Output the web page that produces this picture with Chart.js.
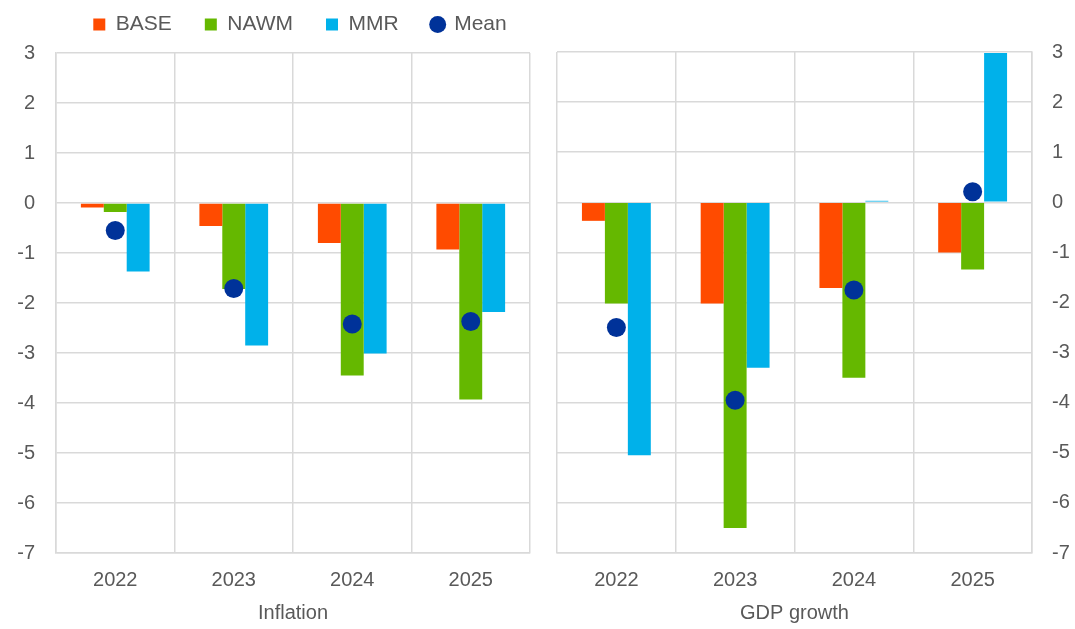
<!DOCTYPE html>
<html>
<head>
<meta charset="utf-8">
<script src="https://cdn.jsdelivr.net/npm/chart.js@4/dist/chart.umd.min.js"></script>
<style>
  html, body { margin: 0; padding: 0; background: #fff; overflow: hidden; }
  #left { position: absolute; left: 0; top: -19px; width: 600px; height: 648px; }
  #right { position: absolute; left: 540px; top: 0; width: 535px; height: 629px; }
</style>
</head>
<body>
<div id="left"><canvas id="cLeft"></canvas></div>
<div id="right"><canvas id="cRight"></canvas></div>
<script>
// ---- data ----
const years = ['2022', '2023', '2024', '2025'];
const seriesNames = ['BASE', 'NAWM', 'MMR', 'Mean'];

const inflBase = [-0.09, -0.46, -0.80, -0.93];
const inflNawm = [-0.18, -1.72, -3.45, -3.93];
const inflMmr  = [-1.37, -2.85, -3.01, -2.18];
const inflMean = [-0.55, -1.71, -2.42, -2.37];

const gdpBase = [-0.37, -2.02, -1.71, -1.00];
const gdpNawm = [-2.02, -6.50, -3.50, -1.34];
const gdpMmr  = [-5.05, -3.30, 0.03, 2.98];
const gdpMean = [-2.50, -3.95, -1.75, 0.21];

const yTicks = [3, 2, 1, 0, -1, -2, -3, -4, -5, -6, -7];

const COLORS = ['#ff4b00', '#65b800', '#00b1ea', '#003299'];
const FONT = "'Liberation Sans', Arial, sans-serif";
const TEXT = '#595959';
const GRID = '#d9d9d9';

Chart.defaults.font.family = FONT;
Chart.defaults.color = TEXT;
Chart.defaults.animation = false;

function makeDatasets(base, nawm, mmr, mean) {
  const sets = [base, nawm, mmr].map((d, i) => ({
    type: 'bar',
    label: seriesNames[i],
    data: d,
    backgroundColor: COLORS[i],
    borderWidth: 0,
    categoryPercentage: 0.58,
    barPercentage: 1.0,
    pointStyle: 'rect',
    order: 1,
  }));
  // mean shown as dots on top of the bars
  sets.push({
    type: 'line',
    label: seriesNames[3],
    data: mean,
    showLine: false,
    pointRadius: 9.5,
    pointBackgroundColor: COLORS[3],
    pointBorderWidth: 0,
    backgroundColor: COLORS[3],
    borderColor: COLORS[3],
    pointStyle: 'circle',
    order: 0,
  });
  return sets;
}

// invisible axis, only used to reserve space
function spacer(position, size) {
  return {
    position,
    display: true,
    grid: { display: false },
    border: { display: false },
    ticks: { display: false },
    afterFit: s => {
      if (position === 'top') s.height = size; else s.width = size;
    },
  };
}

function buildChart(canvas, title, datasets, side, showLegend) {
  const scales = {
    x: {
      grid: { color: GRID, lineWidth: 1.5, drawTicks: false, offset: true },
      border: { color: GRID, width: 1.5 },
      ticks: { color: TEXT, font: { size: 20 }, padding: 15 },
      title: { display: true, text: title, color: TEXT, font: { size: 20 }, padding: { top: 4 } },
      afterFit: s => { s.height = 76; },
    },
    y: {
      position: side,
      min: -7,
      max: 3,
      afterBuildTicks: s => { s.ticks = yTicks.map(v => ({ value: v })); },
      grid: { color: GRID, lineWidth: 1.5, drawTicks: false },
      border: { color: GRID, width: 1.5 },
      ticks: { color: TEXT, font: { size: 20 }, padding: side === 'left' ? 21 : 20 },
      afterFit: s => { s.width = side === 'left' ? 56 : 43; },
    },
  };
  if (side === 'left') {
    // the legend then centres over the whole canvas
    scales.padRight = spacer('right', 70);
    scales.padTop = spacer('top', 8);
  }
  return new Chart(canvas, {
    type: 'bar',
    data: { labels: years, datasets },
    options: {
      responsive: true,
      maintainAspectRatio: false,
      layout: {
        padding: side === 'left'
          ? { left: 0, right: 0, top: 0, bottom: 0 }
          : { left: 17, right: 0, top: 52, bottom: 0 },
      },
      plugins: {
        legend: {
          display: showLegend,
          position: 'top',
          labels: {
            usePointStyle: true,
            boxWidth: 12,
            boxHeight: 12,
            padding: 33,
            color: TEXT,
            font: { size: 21 },
            sort: (a, b) => a.datasetIndex - b.datasetIndex,
          },
        },
        tooltip: { enabled: false },
      },
      scales,
    },
  });
}

buildChart(document.getElementById('cLeft'), 'Inflation',
  makeDatasets(inflBase, inflNawm, inflMmr, inflMean), 'left', true);
buildChart(document.getElementById('cRight'), 'GDP growth',
  makeDatasets(gdpBase, gdpNawm, gdpMmr, gdpMean), 'right', false);
</script>
</body>
</html>
